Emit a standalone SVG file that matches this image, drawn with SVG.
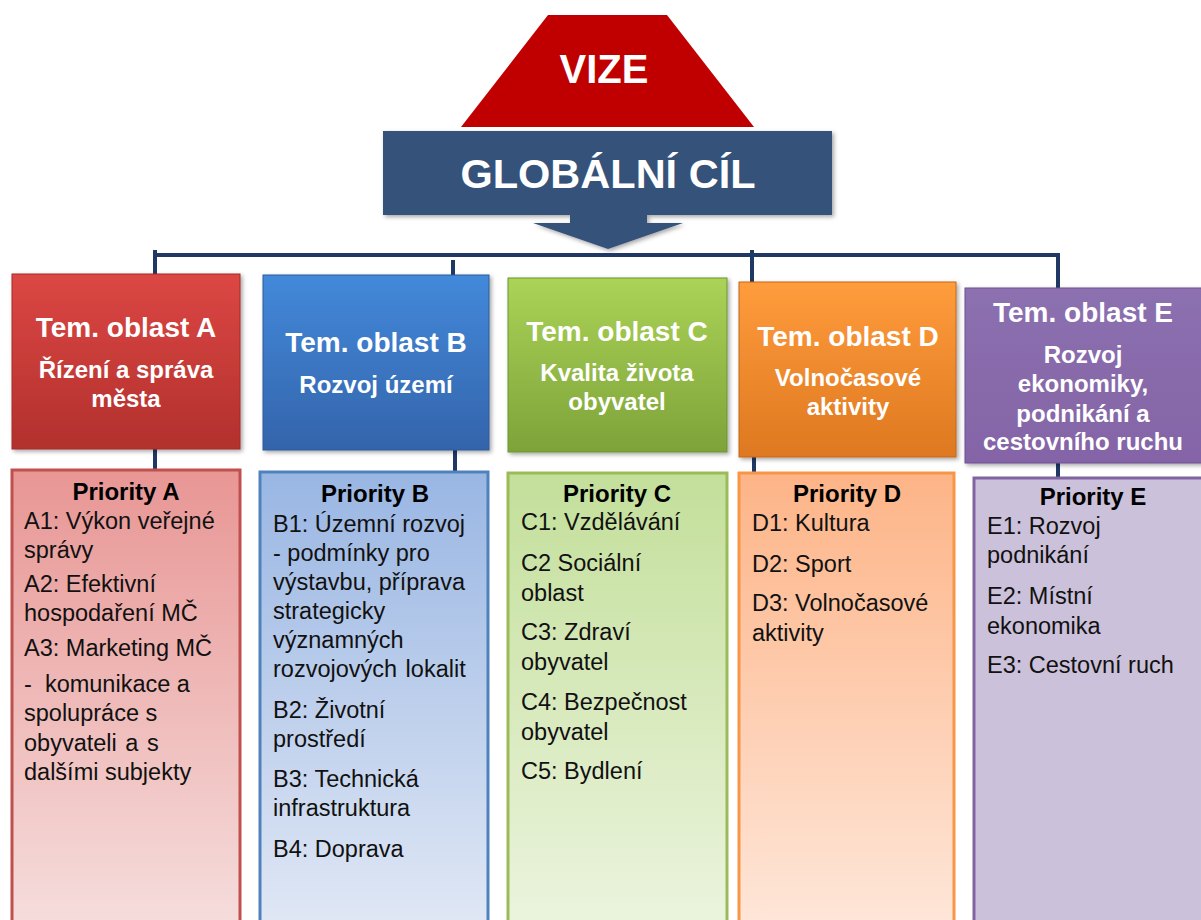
<svg xmlns="http://www.w3.org/2000/svg" width="1201" height="920" viewBox="0 0 1201 920">
<defs>
<linearGradient id="gA" x1="0" y1="0" x2="0" y2="1"><stop offset="0" stop-color="#DC4744"/><stop offset="1" stop-color="#B2302D"/></linearGradient>
<linearGradient id="gB" x1="0" y1="0" x2="0" y2="1"><stop offset="0" stop-color="#4389DA"/><stop offset="1" stop-color="#3364AB"/></linearGradient>
<linearGradient id="gC" x1="0" y1="0" x2="0" y2="1"><stop offset="0" stop-color="#ABD357"/><stop offset="1" stop-color="#7DA339"/></linearGradient>
<linearGradient id="gD" x1="0" y1="0" x2="0" y2="1"><stop offset="0" stop-color="#FF9C3C"/><stop offset="1" stop-color="#DE7820"/></linearGradient>
<linearGradient id="gE" x1="0" y1="0" x2="0" y2="1"><stop offset="0" stop-color="#8C70B0"/><stop offset="1" stop-color="#8464A6"/></linearGradient>
<linearGradient id="pA" x1="0" y1="0" x2="0" y2="1"><stop offset="0" stop-color="#E89694"/><stop offset="1" stop-color="#F5DEDD"/></linearGradient>
<linearGradient id="pB" x1="0" y1="0" x2="0" y2="1"><stop offset="0" stop-color="#99B6E3"/><stop offset="1" stop-color="#E1E8F5"/></linearGradient>
<linearGradient id="pC" x1="0" y1="0" x2="0" y2="1"><stop offset="0" stop-color="#C3DF9A"/><stop offset="1" stop-color="#ECF4DF"/></linearGradient>
<linearGradient id="pD" x1="0" y1="0" x2="0" y2="1"><stop offset="0" stop-color="#FDB487"/><stop offset="1" stop-color="#FEE7DA"/></linearGradient>
<filter id="sh" x="-10%" y="-10%" width="125%" height="125%"><feDropShadow dx="2" dy="2" stdDeviation="2" flood-color="#000" flood-opacity="0.35"/></filter>
</defs>
<style>
.hd{font-family:"Liberation Sans",Arial,sans-serif;font-weight:bold;fill:#fff;text-anchor:middle}
.h1{font-size:28px}
.h2{font-size:24px}
.pt{font-family:"Liberation Sans",Arial,sans-serif;font-weight:bold;font-size:24px;fill:#000;text-anchor:middle}
.tx{font-family:"Liberation Sans",Arial,sans-serif;font-size:23.5px;fill:#111}
.cn{stroke:#1F3864;stroke-width:4;fill:none}
</style>

<g id="vize">
<polygon points="548,15 667,15 754,127 461,127" fill="#C00000"/>
<text x="604" y="83" class="hd" font-size="40">VIZE</text>
</g>

<g id="globalni-cil">
<path d="M383,131 H832 V215 H647 V223 H683 L608,249 L533,223 H570 V215 H383 Z" fill="#34537A" filter="url(#sh)"/>
<text x="608" y="188" class="hd" font-size="41.5">GLOBÁLNÍ CÍL</text>
</g>

<g id="connectors">
<line class="cn" x1="153" y1="255" x2="1060" y2="255"/>
<line class="cn" x1="155" y1="250" x2="155" y2="274"/>
<line class="cn" x1="453" y1="260" x2="453" y2="275"/>
<line class="cn" x1="752" y1="250" x2="752" y2="282"/>
<line class="cn" x1="1058" y1="255" x2="1058" y2="288"/>
<line class="cn" x1="155" y1="449" x2="155" y2="470"/>
<line class="cn" x1="455" y1="450" x2="455" y2="472"/>
<line class="cn" x1="754" y1="457" x2="754" y2="473"/>
<line class="cn" x1="1058" y1="463" x2="1058" y2="478"/>
</g>

<g id="oblast-a">
<rect x="12" y="274" width="228" height="175" fill="url(#gA)" stroke="#A52A27" stroke-width="1" filter="url(#sh)"/>
<text x="126" y="337" class="hd h1">Tem. oblast A</text>
<text x="126" y="378" class="hd h2">Řízení a správa</text>
<text x="126" y="407" class="hd h2">města</text>
</g>
<g id="oblast-b">
<rect x="263" y="275" width="226" height="175" fill="url(#gB)" stroke="#2E5A99" stroke-width="1" filter="url(#sh)"/>
<text x="376" y="352" class="hd h1">Tem. oblast B</text>
<text x="376" y="393" class="hd h2">Rozvoj území</text>
</g>
<g id="oblast-c">
<rect x="508" y="278" width="219" height="174" fill="url(#gC)" stroke="#6F9330" stroke-width="1" filter="url(#sh)"/>
<text x="617" y="341" class="hd h1">Tem. oblast C</text>
<text x="617" y="381" class="hd h2">Kvalita života</text>
<text x="617" y="410" class="hd h2">obyvatel</text>
</g>
<g id="oblast-d">
<rect x="739" y="282" width="217" height="175" fill="url(#gD)" stroke="#C4661A" stroke-width="1" filter="url(#sh)"/>
<text x="848" y="346" class="hd h1">Tem. oblast D</text>
<text x="848" y="386" class="hd h2">Volnočasové</text>
<text x="848" y="415" class="hd h2">aktivity</text>
</g>
<g id="oblast-e">
<rect x="965" y="288" width="240" height="175" fill="url(#gE)" stroke="#6C5190" stroke-width="1" filter="url(#sh)"/>
<text x="1083" y="322" class="hd h1">Tem. oblast E</text>
<text x="1083" y="363" class="hd h2">Rozvoj</text>
<text x="1083" y="392" class="hd h2">ekonomiky,</text>
<text x="1083" y="422" class="hd h2">podnikání a</text>
<text x="1083" y="450" class="hd h2">cestovního ruchu</text>
</g>

<g id="priority-a">
<rect x="12" y="470" width="228" height="460" fill="url(#pA)" stroke="#C0504D" stroke-width="3"/>
<text x="126" y="500" class="pt">Priority A</text>
<text class="tx" x="24" y="529">A1: Výkon veřejné</text>
<text class="tx" x="24" y="558">správy</text>
<text class="tx" x="24" y="592">A2: Efektivní</text>
<text class="tx" x="24" y="621">hospodaření MČ</text>
<text class="tx" x="24" y="656">A3: Marketing MČ</text>
<text class="tx" x="24" y="692" xml:space="preserve">-  komunikace a</text>
<text class="tx" x="24" y="721">spolupráce s</text>
<text class="tx" x="24" y="751" word-spacing="2">obyvateli a s</text>
<text class="tx" x="24" y="780">dalšími subjekty</text>
</g>
<g id="priority-b">
<rect x="260" y="472" width="228" height="460" fill="url(#pB)" stroke="#4F81BD" stroke-width="3"/>
<text x="375" y="502" class="pt">Priority B</text>
<text class="tx" x="273" y="532">B1: Územní rozvoj</text>
<text class="tx" x="273" y="561">- podmínky pro</text>
<text class="tx" x="273" y="590">výstavbu, příprava</text>
<text class="tx" x="273" y="619">strategicky</text>
<text class="tx" x="273" y="648">významných</text>
<text class="tx" x="273" y="677" word-spacing="2">rozvojových lokalit</text>
<text class="tx" x="273" y="718">B2: Životní</text>
<text class="tx" x="273" y="747">prostředí</text>
<text class="tx" x="273" y="787">B3: Technická</text>
<text class="tx" x="273" y="816">infrastruktura</text>
<text class="tx" x="273" y="857">B4: Doprava</text>
</g>
<g id="priority-c">
<rect x="508" y="473" width="219" height="460" fill="url(#pC)" stroke="#9BBB59" stroke-width="3"/>
<text x="617" y="502" class="pt">Priority C</text>
<text class="tx" x="521" y="530">C1: Vzdělávání</text>
<text class="tx" x="521" y="571">C2 Sociální</text>
<text class="tx" x="521" y="601">oblast</text>
<text class="tx" x="521" y="640">C3: Zdraví</text>
<text class="tx" x="521" y="670">obyvatel</text>
<text class="tx" x="521" y="710">C4: Bezpečnost</text>
<text class="tx" x="521" y="740">obyvatel</text>
<text class="tx" x="521" y="779">C5: Bydlení</text>
</g>
<g id="priority-d">
<rect x="739" y="473" width="215" height="460" fill="url(#pD)" stroke="#F79646" stroke-width="3"/>
<text x="847" y="502" class="pt">Priority D</text>
<text class="tx" x="752" y="531">D1: Kultura</text>
<text class="tx" x="752" y="572">D2: Sport</text>
<text class="tx" x="752" y="611">D3: Volnočasové</text>
<text class="tx" x="752" y="641">aktivity</text>
</g>
<g id="priority-e">
<rect x="974" y="478" width="240" height="460" fill="#CCC1DA" stroke="#8064A2" stroke-width="3"/>
<text x="1093" y="505" class="pt">Priority E</text>
<text class="tx" x="987" y="534">E1: Rozvoj</text>
<text class="tx" x="987" y="563">podnikání</text>
<text class="tx" x="987" y="604">E2: Místní</text>
<text class="tx" x="987" y="634">ekonomika</text>
<text class="tx" x="987" y="673">E3: Cestovní ruch</text>
</g>
</svg>
